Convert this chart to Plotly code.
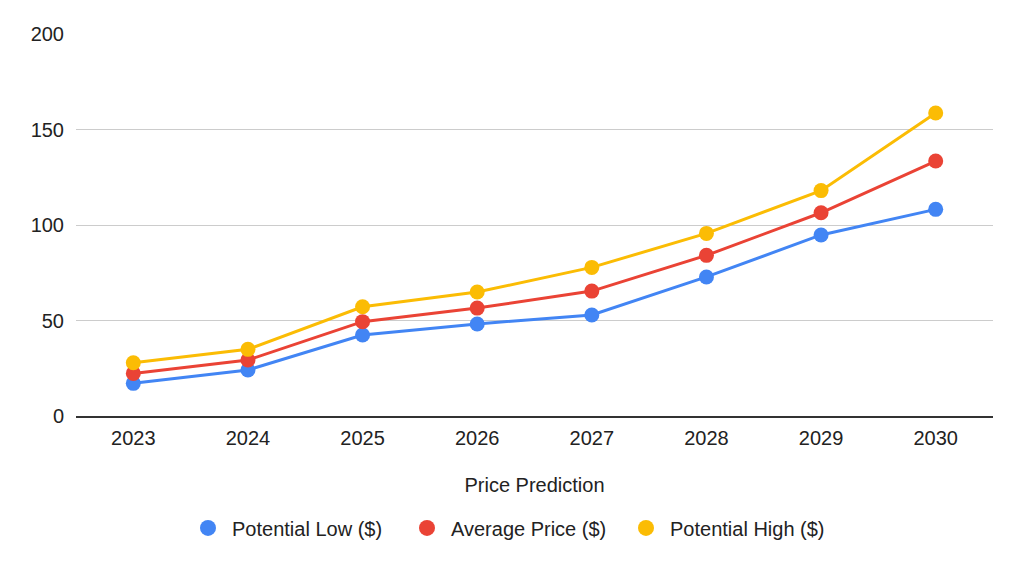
import plotly.graph_objects as go

years = ["2023", "2024", "2025", "2026", "2027", "2028", "2029", "2030"]
potential_low = [17.1, 24.1, 42.4, 48.2, 52.9, 72.8, 94.8, 108.2]
average_price = [22.3, 29.3, 49.4, 56.5, 65.4, 84.1, 106.4, 133.5]
potential_high = [27.9, 34.9, 57.2, 64.9, 77.8, 95.6, 118.0, 158.6]

series = [
    ("Potential Low ($)", potential_low, "#4285F4"),
    ("Average Price ($)", average_price, "#EA4335"),
    ("Potential High ($)", potential_high, "#FBBC04"),
]

FONT = "Liberation Sans, Arial, sans-serif"
FS = 20

fig = go.Figure()
for name, vals, color in series:
    fig.add_trace(go.Scatter(
        x=years, y=vals, mode="lines+markers", name=name,
        line=dict(color=color, width=3),
        marker=dict(color=color, size=15),
        showlegend=False, hoverinfo="x+y+name",
    ))
for name, vals, color in series:
    fig.add_trace(go.Scatter(
        x=[None], y=[None], mode="markers", name=name,
        marker=dict(color=color, size=20),
        showlegend=True,
    ))

fig.update_layout(
    width=1016, height=563,
    paper_bgcolor="white", plot_bgcolor="white",
    margin=dict(l=68, r=31, t=26, b=155),
    font=dict(family=FONT, size=FS, color="#222222"),
    showlegend=True,
    legend=dict(
        orientation="h", x=0.476, xanchor="center", y=-0.293, yanchor="middle",
        font=dict(size=FS, color="#222222"), itemsizing="trace",
        itemwidth=38, entrywidth=166, entrywidthmode="pixels",
        traceorder="normal",
    ),
    xaxis=dict(
        type="category", range=[-0.5, 7.5],
        showgrid=False, showline=True, linecolor="#333333", linewidth=1.5,
        ticks="", tickfont=dict(size=FS, color="#222222"),
        ticklabelstandoff=3,
        title=dict(text="Price Prediction", font=dict(size=FS, color="#222222"), standoff=30),
        fixedrange=True,
    ),
    yaxis=dict(
        range=[0, 200], tickvals=[0, 50, 100, 150, 200],
        showgrid=True, gridcolor="#cccccc", gridwidth=1,
        zeroline=False, showline=False, ticks="",
        ticklabelstandoff=11,
        tickfont=dict(size=FS, color="#222222"),
        fixedrange=True,
    ),
)

fig.write_html("out.html")
